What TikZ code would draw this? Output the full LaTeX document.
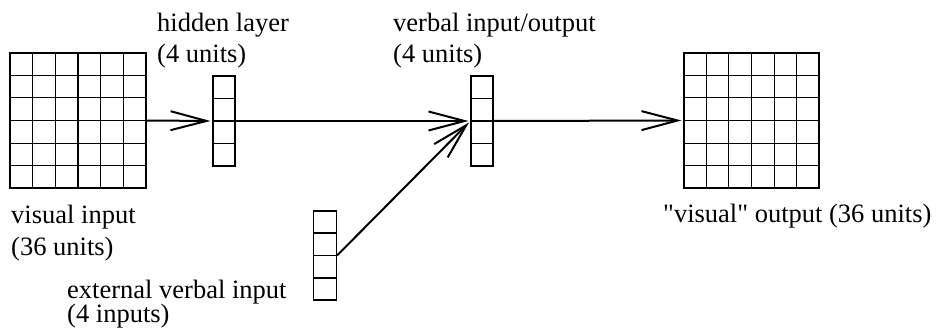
\documentclass[tikz,border=0pt]{standalone}
\usepackage{fontspec}
\setmainfont{Liberation Serif}
\usetikzlibrary{arrows.meta,calc}
\tikzset{
  gridbox/.style={draw=black, line width=1.1pt, inner sep=0pt, minimum width=#1},
  gline/.style={draw=black, line width=1.1pt},
  conn/.style={line width=2pt, shorten >=2pt, -{Straight Barb[length=36pt,width=19pt,line width=2pt]}},
  lbl/.style={anchor=base west, inner sep=0pt, font=\fontsize{26.5}{31}\selectfont}
}
\begin{document}
\begin{tikzpicture}[x=1pt,y=-1pt]
\useasboundingbox (0,0) rectangle (936,329);
% visual input grid
\node[gridbox=136pt, minimum height=135pt] (vin) at (78,120.5) {};
\foreach \i in {1,...,5} {
  \draw[gline] ($(vin.north west)!\i/6!(vin.north east)$) -- ($(vin.south west)!\i/6!(vin.south east)$);
  \draw[gline] ($(vin.north west)!\i/6!(vin.south west)$) -- ($(vin.north east)!\i/6!(vin.south east)$);
}
% visual output grid
\node[gridbox=135pt, minimum height=135pt] (vout) at (751.5,120.5) {};
\foreach \i in {1,...,5} {
  \draw[gline] ($(vout.north west)!\i/6!(vout.north east)$) -- ($(vout.south west)!\i/6!(vout.south east)$);
  \draw[gline] ($(vout.north west)!\i/6!(vout.south west)$) -- ($(vout.north east)!\i/6!(vout.south east)$);
}
% columns
\node[gridbox=22pt, minimum height=90pt] (hid) at (224,121) {};
\node[gridbox=22pt, minimum height=90pt] (verb) at (482,121) {};
\node[gridbox=23pt, minimum height=89pt] (ext) at (325,255.5) {};
\foreach \n in {hid,verb,ext} {
  \foreach \i in {1,2,3} {
    \draw[gline] ($(\n.north west)!\i/4!(\n.south west)$) -- ($(\n.north east)!\i/4!(\n.south east)$);
  }
}
\coordinate (extout) at ($(ext.north east)!0.5!(ext.south east)$);
% connectors
\draw[conn] (vin.east) -- (hid.west);
\draw[conn] (hid.east) -- (verb.west);
\draw[conn] (verb.east) -- (vout.west);
\draw[conn] (extout) -- (verb.west);
% labels
\node[lbl] (l1a) at (157,32) {hidden layer};
\node[lbl] (l1b) at (157,63) {(4 units)};
\node[lbl] (l2a) at (393,32) {verbal input/output};
\node[lbl] (l2b) at (393,63) {(4 units)};
\node[lbl] (l3a) at (11,223) {visual input};
\node[lbl] (l3b) at (11,255) {(36 units)};
\node[lbl] (l4a) at (67,298) {external verbal input};
\node[lbl] (l4b) at (67,322) {(4 inputs)};
\node[lbl] (l5) at (663,222) {\textquotedbl visual\textquotedbl{} output (36 units)};
\end{tikzpicture}
\end{document}
